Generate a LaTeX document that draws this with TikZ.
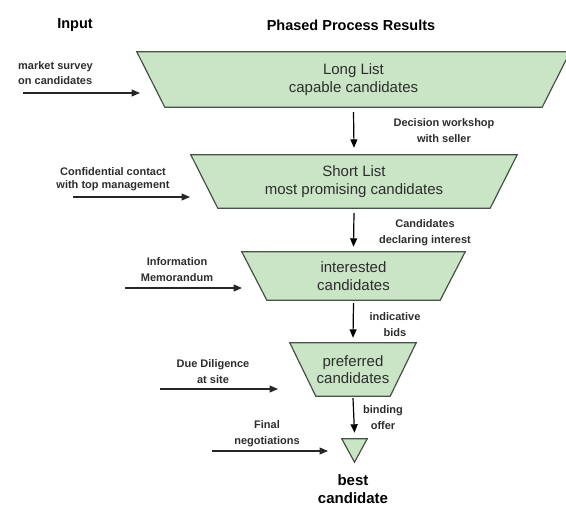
\documentclass[tikz,border=0pt]{standalone}
\usepackage{fontspec}
\setmainfont{Liberation Sans}
\usetikzlibrary{calc,arrows.meta,backgrounds}
\definecolor{trapgreen}{RGB}{202,228,198}
\definecolor{trapline}{RGB}{70,82,70}
\definecolor{txt}{RGB}{45,45,45}
\begin{document}
\begin{tikzpicture}[x=1pt,y=-1pt,
  trap/.style={inner sep=0pt, align=center, text=txt, font=\fontsize{15}{17.5}\selectfont},
  trapshape/.style={fill=trapgreen, draw=trapline, line width=1.2pt, line join=miter},
  lbl/.style={inner sep=0pt, align=center, text=txt, font=\bfseries\fontsize{11}{16}\selectfont},
  head/.style={inner sep=0pt, align=center, text=black, font=\bfseries\fontsize{14.5}{18}\selectfont},
  flow/.style={draw=black, line width=1.2pt, -{Triangle[length=8.5pt,width=7pt]}},
  feed/.style={draw=black!85, line width=1.2pt, -{Triangle[length=8.5pt,width=7pt]}}
]
\useasboundingbox (0,0) rectangle (566,506);

% headings
\node[head] (hin) at (75,25) {Input};
\node[head] (hph) at (351,25) {Phased Process Results};

% funnel stages
\node[trap, minimum width=377pt, minimum height=55pt] (L) at (353.5,79.5) {Long List\\capable candidates};
\node[trap, minimum width=272pt, minimum height=53pt] (S) at (354,181.5) {Short List\\most promising candidates};
\node[trap, minimum width=173pt, minimum height=48pt] (I) at (353.5,276) {interested\\candidates};
\node[trap, minimum width=74pt, minimum height=53pt] (P) at (353,369.5) {preferred\\candidates};
\node[inner sep=0pt, minimum width=25pt, minimum height=23pt] (T) at (354.5,450.5) {};
\node[head, font=\bfseries\fontsize{15}{18}\selectfont] (best) at (353,489) {best\\candidate};

\begin{pgfonlayer}{background}
\foreach \n/\s in {L/28,S/27,I/25,P/26}{
  \path[trapshape] ($(\n.north west)+(-\s,0)$) -- ($(\n.north east)+(\s,0)$) -- (\n.south east) -- (\n.south west) -- cycle;
}
\path[trapshape] (T.north west) -- (T.north east) -- (T.south) -- cycle;
\end{pgfonlayer}

% vertical flow arrows
\draw[flow] ([yshift=-5pt]L.south) -- ([yshift=7pt]S.north);
\draw[flow] ([yshift=-5pt]S.south) -- ([yshift=5pt]I.north);
\draw[flow] ([yshift=-3pt]I.south) -- ([yshift=5pt]P.north);
\draw[flow] ([yshift=-2pt]P.south) -- ([yshift=6pt]T.north);

% flow labels
\node[lbl] (l1) at (444,131) {Decision workshop\\with seller};
\node[lbl] (l2) at (425,233) {Candidates\\declaring interest};
\node[lbl] (l3) at (395,325) {indicative\\bids};
\node[lbl] (l4) at (383,417.5) {binding\\offer};

% inputs
\coordinate (m0) at (23,93);  \coordinate (m1) at (140,93);
\coordinate (c0) at (73,197); \coordinate (c1) at (190,197);
\coordinate (i0) at (125,288); \coordinate (i1) at (242,288);
\coordinate (d0) at (160,389); \coordinate (d1) at (278,389);
\coordinate (f0) at (212,451); \coordinate (f1) at (328,451);
\draw[feed] (m0) -- (m1);
\draw[feed] (c0) -- (c1);
\draw[feed] (i0) -- (i1);
\draw[feed] (d0) -- (d1);
\draw[feed] (f0) -- (f1);

\node[lbl, anchor=west, align=left, font=\bfseries\fontsize{11}{15}\selectfont] (n1) at (18,73.5) {market survey\\on candidates};
\node[lbl, font=\bfseries\fontsize{11}{13}\selectfont] (n2) at (113,179) {Confidential contact\\with top management};
\node[lbl] (n3) at (177,270) {Information\\Memorandum};
\node[lbl] (n4) at (213,372) {Due Diligence\\at site};
\node[lbl] (n5) at (267,434) {Final\\negotiations};
\end{tikzpicture}
\end{document}
